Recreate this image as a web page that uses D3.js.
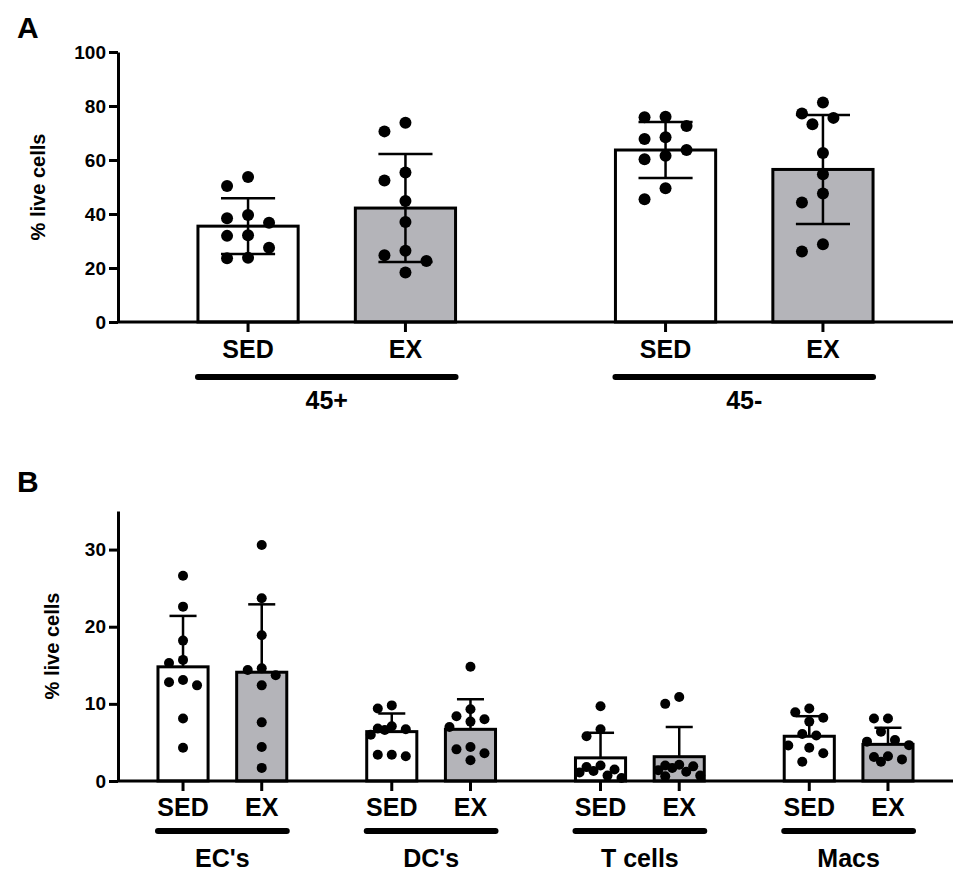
<!DOCTYPE html>
<html>
<head>
<meta charset="utf-8">
<script src="https://cdn.jsdelivr.net/npm/d3@7"></script>
<style>
  body { margin: 0; background: #fff; }
  text { font-family: "Liberation Sans", Arial, sans-serif; font-weight: bold; fill: #000; }
</style>
</head>
<body>
<svg id="chart" width="975" height="879"></svg>
<script>
// ---- data ----
var conditions = ['SED', 'EX']

var groupsA = ['45+', '45-']
var meanA_SED = [35.5, 63.7]
var meanA_EX = [42.2, 56.5]
var sdA_SED = [10.3, 10.4]
var sdA_EX = [20.0, 20.2]
var pointsA_SED = [
  [53.7, 50.4, 39.6, 38.4, 36.8, 32.1, 31.9, 27.5, 23.6, 23.8],
  [76.0, 75.8, 72.6, 68.4, 67.8, 63.7, 61.6, 60.3, 49.5, 45.5]
]
var pointsA_EX = [
  [73.8, 70.6, 55.4, 52.4, 44.8, 37.0, 26.4, 24.7, 22.6, 18.3],
  [81.3, 77.2, 75.6, 73.2, 62.6, 54.7, 47.6, 44.3, 28.8, 26.1]
]
var ticksA = [0, 20, 40, 60, 80, 100]

var groupsB = ["EC's", "DC's", 'T cells', 'Macs']
var meanB_SED = [14.8, 6.4, 3.0, 5.8]
var meanB_EX = [14.1, 6.7, 3.15, 4.75]
var sdB_SED = [6.6, 2.35, 3.25, 2.6]
var sdB_EX = [8.8, 3.9, 3.85, 2.15]
var pointsB_SED = [
  [26.6, 22.6, 18.2, 15.7, 15.3, 13.1, 12.8, 12.4, 8.1, 4.3],
  [9.8, 9.4, 7.1, 6.8, 6.7, 6.6, 6.0, 3.4, 3.4, 3.2],
  [9.7, 6.7, 5.8, 2.0, 1.8, 1.5, 1.3, 1.1, 0.7, 0.4],
  [9.4, 8.9, 8.2, 7.7, 6.1, 5.9, 4.6, 4.3, 3.6, 2.5]
]
var pointsB_EX = [
  [30.6, 23.7, 18.9, 14.6, 14.4, 13.7, 12.4, 7.6, 4.4, 1.7],
  [14.8, 9.3, 8.4, 8.0, 7.7, 7.0, 4.4, 4.1, 3.6, 2.7],
  [10.9, 10.0, 2.1, 2.0, 1.9, 1.7, 1.4, 1.2, 0.7, 0.6],
  [8.1, 8.1, 6.4, 5.3, 5.1, 4.65, 3.2, 3.1, 2.8, 2.5]
]
var ticksB = [0, 10, 20, 30]

var fills = { SED: '#ffffff', EX: '#b4b4b9' }

var svg = d3.select('#chart')

// simple beeswarm: place highest values first, nudge sideways on collision
function swarm (values, cx, y, minDist, step, maxOff) {
  var slots = [0]
  for (var k = 1; k * step <= maxOff + 0.01; k++) slots.push(-k * step, k * step)
  var placed = []
  values.slice().sort(d3.descending).forEach(function (v) {
    var py = y(v)
    var best = cx, bestD = -1
    for (var i = 0; i < slots.length; i++) {
      var px = cx + slots[i]
      var minD = Infinity
      placed.forEach(function (p) { minD = Math.min(minD, Math.hypot(p.x - px, p.y - py)) })
      if (minD >= minDist) { best = px; break }
      if (minD > bestD) { bestD = minD; best = px }
    }
    placed.push({ x: best, y: py, v: v })
  })
  return placed
}

function drawPanel (opt) {
  var g = svg.append('g')

  var y = d3.scaleLinear().domain(opt.yDomain).range([opt.bottom, opt.top])
  var x0 = d3.scaleBand().domain(opt.groups).range([118, 953]).padding(0)
  var step = x0.bandwidth()
  var x1 = d3.scalePoint().domain(conditions).range([-0.1885 * step, 0.1885 * step])
  var barW = 0.24 * step

  // rows: one per group x condition
  var rows = []
  opt.groups.forEach(function (grp, i) {
    rows.push({ grp: grp, cond: 'SED', mean: opt.meanSED[i], sd: opt.sdSED[i], pts: opt.ptsSED[i] })
    rows.push({ grp: grp, cond: 'EX', mean: opt.meanEX[i], sd: opt.sdEX[i], pts: opt.ptsEX[i] })
  })
  function cx (d) { return x0(d.grp) + step / 2 + x1(d.cond) }

  // bars
  g.selectAll('rect.bar')
    .data(rows)
    .enter().append('rect')
      .attr('class', 'bar')
      .attr('x', function (d) { return cx(d) - barW / 2 })
      .attr('y', function (d) { return y(d.mean) })
      .attr('width', barW)
      .attr('height', function (d) { return y(0) - y(d.mean) })
      .attr('fill', function (d) { return fills[d.cond] })
      .attr('stroke', '#000')
      .attr('stroke-width', 3)

  // error bars
  var cap = barW * 0.27
  var err = g.selectAll('g.err')
    .data(rows)
    .enter().append('g')
      .attr('class', 'err')
      .attr('stroke', '#000')
      .attr('stroke-width', 2.5)
  err.append('line')
      .attr('x1', cx).attr('x2', cx)
      .attr('y1', function (d) { return y(opt.bothWays ? d.mean - d.sd : d.mean) })
      .attr('y2', function (d) { return y(d.mean + d.sd) })
  err.append('line')
      .attr('x1', function (d) { return cx(d) - cap })
      .attr('x2', function (d) { return cx(d) + cap })
      .attr('y1', function (d) { return y(d.mean + d.sd) })
      .attr('y2', function (d) { return y(d.mean + d.sd) })
  if (opt.bothWays) {
    err.append('line')
        .attr('x1', function (d) { return cx(d) - cap })
        .attr('x2', function (d) { return cx(d) + cap })
        .attr('y1', function (d) { return y(d.mean - d.sd) })
        .attr('y2', function (d) { return y(d.mean - d.sd) })
  }

  // dots
  rows.forEach(function (d) {
    var pts = swarm(d.pts, cx(d), y, opt.minDist, opt.swarmStep, opt.maxOff)
    g.append('g').selectAll('circle')
      .data(pts)
      .enter().append('circle')
        .attr('cx', function (p) { return p.x })
        .attr('cy', function (p) { return p.y })
        .attr('r', opt.r)
        .attr('fill', '#000')
  })

  // y axis
  var yAxis = g.append('g')
      .attr('transform', 'translate(118,0)')
      .call(d3.axisLeft(y).tickValues(opt.ticks).tickSize(9).tickPadding(3).tickSizeOuter(0))
  yAxis.select('.domain').attr('stroke-width', 3)
  yAxis.selectAll('.tick line').attr('stroke-width', 3)
  yAxis.selectAll('.tick text')
      .attr('font-size', 19)
      .attr('font-family', '"Liberation Sans", Arial, sans-serif')
      .attr('font-weight', 'bold')
      .attr('fill', '#000')

  // x axis baseline and ticks
  g.append('line')
      .attr('x1', 118).attr('x2', 953)
      .attr('y1', y(0)).attr('y2', y(0))
      .attr('stroke', '#000').attr('stroke-width', 3)
  g.selectAll('line.xtick')
    .data(rows)
    .enter().append('line')
      .attr('class', 'xtick')
      .attr('x1', cx).attr('x2', cx)
      .attr('y1', y(0)).attr('y2', y(0) + 10)
      .attr('stroke', '#000').attr('stroke-width', 3)

  // condition labels
  g.selectAll('text.cond')
    .data(rows)
    .enter().append('text')
      .attr('class', 'cond')
      .attr('x', cx)
      .attr('y', y(0) + opt.condDy)
      .attr('text-anchor', 'middle')
      .attr('font-size', 25)
      .text(function (d) { return d.cond })

  // group underlines and labels
  var half = 0.1885 * step + barW / 2
  g.selectAll('line.under')
    .data(opt.groups)
    .enter().append('line')
      .attr('class', 'under')
      .attr('x1', function (d) { return x0(d) + step / 2 - half })
      .attr('x2', function (d) { return x0(d) + step / 2 + half })
      .attr('y1', y(0) + opt.lineDy).attr('y2', y(0) + opt.lineDy)
      .attr('stroke', '#000').attr('stroke-width', 6)
      .attr('stroke-linecap', 'round')
  g.selectAll('text.grp')
    .data(opt.groups)
    .enter().append('text')
      .attr('class', 'grp')
      .attr('x', function (d) { return x0(d) + step / 2 })
      .attr('y', y(0) + opt.grpDy)
      .attr('text-anchor', 'middle')
      .attr('font-size', 25)
      .text(function (d) { return d })

  // y title
  g.append('text')
      .attr('transform', 'translate(' + opt.titleX + ',' + ((opt.top + opt.bottom) / 2 + opt.titleDy) + ') rotate(-90)')
      .attr('text-anchor', 'middle')
      .attr('font-size', 20)
      .text('% live cells')

  // panel letter
  g.append('text')
      .attr('x', 17)
      .attr('y', opt.letterY)
      .attr('font-size', 30)
      .text(opt.letter)
}

drawPanel({
  letter: 'A', letterY: 38,
  groups: groupsA, yDomain: [0, 100], top: 52, bottom: 322, ticks: ticksA,
  meanSED: meanA_SED, meanEX: meanA_EX, sdSED: sdA_SED, sdEX: sdA_EX,
  ptsSED: pointsA_SED, ptsEX: pointsA_EX,
  bothWays: true, r: 6, minDist: 18, swarmStep: 10.5, maxOff: 22,
  condDy: 36, lineDy: 55, grpDy: 87,
  titleX: 45, titleDy: 0
})

drawPanel({
  letter: 'B', letterY: 492,
  groups: groupsB, yDomain: [0, 35], top: 511, bottom: 781, ticks: ticksB,
  meanSED: meanB_SED, meanEX: meanB_EX, sdSED: sdB_SED, sdEX: sdB_EX,
  ptsSED: pointsB_SED, ptsEX: pointsB_EX,
  bothWays: false, r: 5, minDist: 14, swarmStep: 7, maxOff: 21,
  condDy: 35, lineDy: 50, grpDy: 86,
  titleX: 59, titleDy: 0
})
</script>
</body>
</html>
